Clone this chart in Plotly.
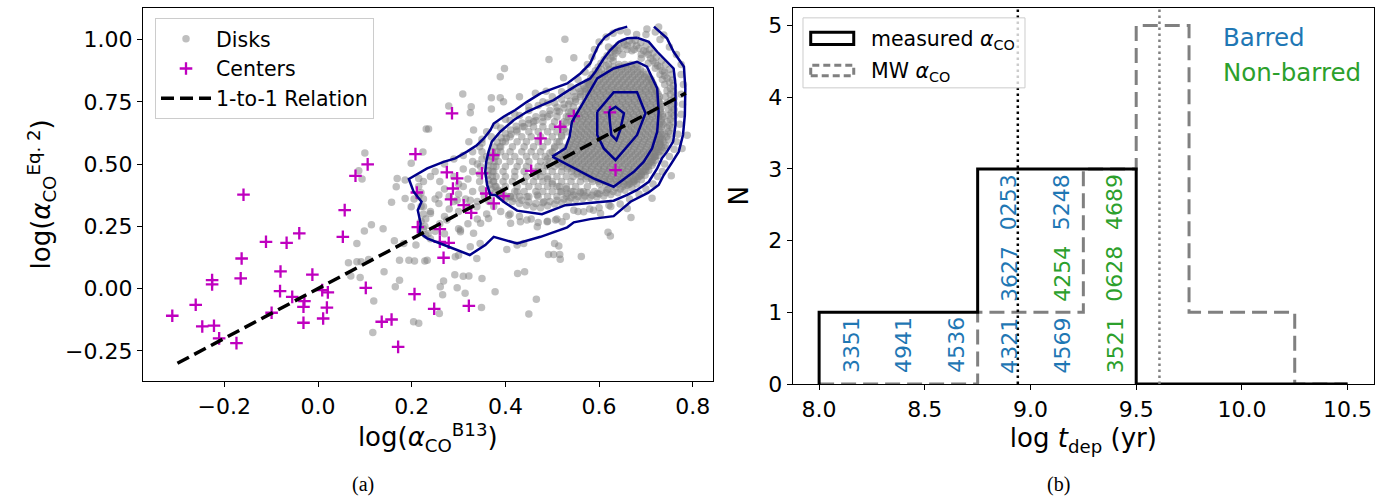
import plotly.graph_objects as go

# ---------------- panel (a): disks (read/estimated from picture) ----------------
disk_sparse = [
    (0.100, 0.545), (0.087, 0.473), (0.094, 0.440), (0.224, 0.549), (0.199, 0.503), (0.169, 0.442),
    (0.167, 0.409), (0.186, 0.436), (0.231, 0.641), (0.215, 0.442), (0.157, 0.347), (0.199, 0.329),
    (0.186, 0.362), (0.114, 0.256), (0.099, 0.231), (0.139, 0.240), (0.083, 0.181), (0.163, 0.192),
    (0.065, 0.104), (0.083, 0.108), (0.092, 0.108), (0.108, 0.117), (0.070, 0.051), (0.090, 0.045),
    (0.141, 0.068), (0.174, 0.114), (0.194, 0.114), (0.206, 0.111), (0.228, 0.111), (0.209, 0.175),
    (0.174, 0.034), (0.165, 0.007), (0.119, -0.050), (0.117, -0.176), (0.204, -0.133), (0.215, -0.139),
    (0.183, 0.181), (0.713, 0.363), (0.668, 0.286), (0.619, 0.226), (0.624, 0.211), (0.562, 0.129),
    (0.505, 0.181), (0.514, 0.171), (0.492, 0.137), (0.503, 0.137), (0.516, 0.137), (0.517, 0.118),
    (0.441, 0.068), (0.426, 0.061), (0.466, -0.043), (0.450, -0.102), (0.378, -0.013), (0.350, 0.041),
    (0.349, -0.076), (0.322, 0.051), (0.310, 0.050), (0.292, 0.056), (0.297, 0.003), (0.314, -0.019),
    (0.268, 0.031), (0.261, 0.007), (0.266, -0.025), (0.259, -0.100), (0.339, 0.121), (0.325, 0.168),
    (0.346, 0.181), (0.304, 0.228), (0.293, 0.128), (0.300, 0.134), (0.403, 0.157), (0.425, 0.175),
    (0.439, 0.181), (0.233, 0.114), (0.527, 1.001), (0.493, 0.920), (0.546, 0.927), (0.398, 0.884),
    (0.389, 0.851), (0.524, 0.847), (0.309, 0.781), (0.370, 0.766), (0.389, 0.766), (0.396, 0.750),
    (0.430, 0.770), (0.327, 0.730), (0.325, 0.706), (0.279, 0.733), (0.370, 0.721), (0.236, 0.641),
    (0.332, 0.637), (0.322, 0.590), (0.464, 0.784), (0.487, 0.793), (0.580, 0.828), (0.702, 1.042),
    (0.727, 1.051), (0.738, 1.018), (0.754, 0.453), (0.788, 0.616), (0.777, 0.563),
]

disk_band = [
    (0.258, 0.342), (0.240, 0.302), (0.275, 0.275), (0.304, 0.235), (0.332, 0.222), (0.347, 0.262),
    (0.364, 0.282), (0.407, 0.295), (0.411, 0.262), (0.432, 0.268), (0.446, 0.275), (0.468, 0.248),
    (0.489, 0.268), (0.507, 0.275), (0.521, 0.268), (0.546, 0.315), (0.567, 0.309), (0.588, 0.315),
    (0.603, 0.302), (0.621, 0.335), (0.660, 0.322), (0.325, 0.355), (0.339, 0.329), (0.297, 0.355),
    (0.258, 0.376), (0.446, 0.369), (0.468, 0.376), (0.482, 0.349), (0.411, 0.369), (0.425, 0.389),
    (0.517, 0.389), (0.532, 0.382), (0.546, 0.376), (0.567, 0.389), (0.596, 0.382), (0.617, 0.396),
    (0.45, 0.73), (0.42, 0.70), (0.40, 0.68), (0.38, 0.655), (0.36, 0.63), (0.35, 0.60), (0.345, 0.57),
    (0.33, 0.55), (0.31, 0.535), (0.29, 0.52), (0.27, 0.50), (0.25, 0.47), (0.24, 0.45), (0.225, 0.43),
    (0.215, 0.41), (0.22, 0.385), (0.225, 0.36), (0.22, 0.33), (0.225, 0.30), (0.22, 0.27), (0.225, 0.24),
    (0.23, 0.215), (0.48, 0.75), (0.50, 0.77), (0.52, 0.79), (0.54, 0.81), (0.555, 0.84), (0.57, 0.87),
    (0.575, 0.90), (0.585, 0.93), (0.59, 0.96), (0.60, 0.99), (0.615, 1.01), (0.63, 1.025), (0.645, 1.035),
    (0.66, 1.03), (0.68, 1.02), (0.70, 1.02), (0.72, 1.03), (0.73, 1.00), (0.75, 0.97), (0.765, 0.94),
    (0.775, 0.90), (0.775, 0.86), (0.78, 0.82), (0.775, 0.78), (0.778, 0.74), (0.775, 0.70), (0.772, 0.66),
    (0.768, 0.62), (0.765, 0.59), (0.76, 0.56), (0.75, 0.53), (0.74, 0.50), (0.735, 0.47), (0.725, 0.45),
    (0.715, 0.42), (0.70, 0.40), (0.685, 0.38), (0.665, 0.36), (0.645, 0.34), (0.625, 0.33), (0.60, 0.325),
    (0.58, 0.32), (0.555, 0.31), (0.53, 0.29), (0.51, 0.28), (0.49, 0.27), (0.47, 0.265), (0.455, 0.28),
    (0.43, 0.29), (0.41, 0.30), (0.39, 0.31), (0.375, 0.33), (0.365, 0.35), (0.355, 0.37), (0.35, 0.40),
    (0.345, 0.43), (0.345, 0.46), (0.347, 0.49), (0.35, 0.52), (0.35, 0.55), (0.34, 0.50), (0.33, 0.47),
    (0.32, 0.44), (0.31, 0.41), (0.30, 0.38), (0.29, 0.35), (0.28, 0.32), (0.27, 0.29), (0.26, 0.26),
    (0.25, 0.23), (0.24, 0.20), (0.27, 0.22), (0.30, 0.24), (0.32, 0.26), (0.34, 0.28), (0.36, 0.30),
    (0.29, 0.45), (0.31, 0.48), (0.33, 0.51), (0.27, 0.40), (0.25, 0.36), (0.24, 0.31), (0.26, 0.43),
    (0.28, 0.37), (0.30, 0.31), (0.32, 0.33), (0.34, 0.35), (0.33, 0.39), (0.315, 0.36), (0.30, 0.42),
    (0.36, 0.53), (0.35, 0.585), (0.37, 0.61), (0.39, 0.645), (0.41, 0.675), (0.43, 0.695), (0.45, 0.715),
    (0.47, 0.735), (0.49, 0.745), (0.205, 0.36), (0.215, 0.37), (0.225, 0.33), (0.23, 0.28), (0.228, 0.25),
    (0.235, 0.22),
]

disk_ring = [
    (0.505, 0.745), (0.520, 0.760), (0.533, 0.775), (0.545, 0.790), (0.556, 0.805), (0.548, 0.770),
    (0.538, 0.752), (0.525, 0.740), (0.560, 0.790), (0.567, 0.815), (0.575, 0.830), (0.582, 0.845),
    (0.572, 0.800), (0.585, 0.860), (0.592, 0.875), (0.598, 0.890), (0.604, 0.905), (0.611, 0.920),
    (0.617, 0.935), (0.625, 0.950), (0.632, 0.965), (0.641, 0.978), (0.652, 0.990), (0.664, 0.995),
    (0.677, 0.996), (0.689, 0.988), (0.700, 0.975), (0.708, 0.960), (0.715, 0.945), (0.722, 0.930),
    (0.733, 0.915), (0.742, 0.900), (0.750, 0.880), (0.755, 0.860), (0.757, 0.838), (0.758, 0.815),
    (0.759, 0.790), (0.760, 0.765), (0.760, 0.742), (0.760, 0.718), (0.760, 0.694), (0.758, 0.670),
    (0.756, 0.646), (0.752, 0.622), (0.748, 0.598), (0.742, 0.575), (0.735, 0.555), (0.728, 0.535),
    (0.720, 0.515), (0.713, 0.495), (0.706, 0.475), (0.698, 0.455), (0.690, 0.437), (0.680, 0.420),
    (0.670, 0.405), (0.655, 0.395), (0.640, 0.385), (0.625, 0.378), (0.610, 0.372), (0.595, 0.368),
    (0.580, 0.366), (0.565, 0.362), (0.550, 0.358), (0.535, 0.352), (0.520, 0.345), (0.505, 0.340),
    (0.490, 0.333), (0.475, 0.325), (0.460, 0.328), (0.445, 0.335), (0.430, 0.342), (0.415, 0.350),
    (0.400, 0.360), (0.388, 0.372), (0.378, 0.385), (0.370, 0.400), (0.366, 0.418), (0.364, 0.436),
    (0.363, 0.455), (0.363, 0.474), (0.364, 0.493), (0.366, 0.512), (0.369, 0.531), (0.372, 0.550),
    (0.377, 0.569), (0.383, 0.588), (0.391, 0.606), (0.400, 0.622), (0.411, 0.637), (0.423, 0.652),
    (0.436, 0.665), (0.450, 0.678), (0.465, 0.690), (0.480, 0.702), (0.495, 0.715), (0.510, 0.728),
    (0.62, 0.97), (0.64, 0.955), (0.66, 0.975), (0.68, 0.975), (0.70, 0.95), (0.63, 0.93), (0.65, 0.94),
    (0.67, 0.955), (0.69, 0.94), (0.71, 0.925), (0.72, 0.905), (0.73, 0.89), (0.74, 0.87), (0.745, 0.845),
    (0.74, 0.82), (0.745, 0.795), (0.742, 0.77), (0.745, 0.745), (0.748, 0.72), (0.748, 0.695),
    (0.745, 0.67), (0.745, 0.645), (0.740, 0.62), (0.735, 0.60), (0.73, 0.58), (0.72, 0.56),
    (0.62, 0.90), (0.63, 0.915), (0.60, 0.87), (0.59, 0.85), (0.58, 0.82), (0.57, 0.79), (0.56, 0.77),
    (0.55, 0.75), (0.545, 0.73), (0.54, 0.71), (0.535, 0.69), (0.53, 0.665), (0.525, 0.64), (0.52, 0.615),
    (0.515, 0.59), (0.505, 0.565), (0.495, 0.545), (0.49, 0.52), (0.485, 0.495), (0.47, 0.47),
    (0.475, 0.45), (0.49, 0.44), (0.50, 0.42), (0.515, 0.41), (0.53, 0.40), (0.545, 0.39), (0.56, 0.385),
    (0.575, 0.385), (0.59, 0.39), (0.605, 0.395), (0.62, 0.40), (0.635, 0.405), (0.65, 0.41),
    (0.665, 0.42), (0.675, 0.435), (0.69, 0.455), (0.70, 0.47), (0.705, 0.49), (0.715, 0.505),
    (0.72, 0.53), (0.73, 0.55), (0.74, 0.565),
    (0.605, 0.88), (0.615, 0.895), (0.625, 0.925), (0.635, 0.945), (0.645, 0.965), (0.655, 0.98),
    (0.67, 0.985), (0.685, 0.965), (0.695, 0.955), (0.705, 0.94), (0.715, 0.915), (0.725, 0.895),
    (0.735, 0.875), (0.74, 0.855), (0.75, 0.83), (0.752, 0.805), (0.752, 0.78), (0.753, 0.755),
    (0.754, 0.73), (0.754, 0.705), (0.752, 0.68), (0.75, 0.655), (0.748, 0.63), (0.744, 0.61),
    (0.738, 0.59), (0.733, 0.57), (0.726, 0.55), (0.718, 0.53), (0.71, 0.51), (0.70, 0.49), (0.692, 0.47),
    (0.684, 0.45), (0.675, 0.43), (0.66, 0.415), (0.645, 0.40), (0.63, 0.39), (0.615, 0.385), (0.60, 0.38),
    (0.585, 0.375), (0.57, 0.372), (0.555, 0.37), (0.54, 0.365), (0.525, 0.36), (0.51, 0.355),
    (0.495, 0.35), (0.48, 0.345), (0.465, 0.342), (0.45, 0.348), (0.435, 0.355), (0.42, 0.362),
    (0.405, 0.37), (0.395, 0.38), (0.385, 0.395), (0.378, 0.41), (0.374, 0.43), (0.372, 0.45),
    (0.372, 0.47), (0.374, 0.49), (0.376, 0.51), (0.378, 0.53), (0.382, 0.55), (0.388, 0.57),
    (0.394, 0.59), (0.402, 0.605), (0.412, 0.62), (0.424, 0.637), (0.437, 0.65), (0.45, 0.663),
    (0.465, 0.675), (0.48, 0.688), (0.495, 0.70), (0.51, 0.713), (0.525, 0.725), (0.535, 0.74),
    (0.55, 0.76), (0.56, 0.78), (0.57, 0.805), (0.578, 0.82), (0.586, 0.84), (0.594, 0.86),
    (0.632, 0.955), (0.66, 0.96), (0.675, 0.96), (0.69, 0.925), (0.705, 0.905), (0.72, 0.885),
    (0.73, 0.86), (0.735, 0.84),
]

# moderately dense left lobe: rows of (y, x-values)
lobe_row_y = [0.37, 0.39, 0.41, 0.43, 0.45, 0.47, 0.49, 0.51, 0.53, 0.55, 0.57, 0.59, 0.61, 0.63,
              0.65, 0.67, 0.69, 0.71]
lobe_row_x = [
    [0.41, 0.43, 0.45, 0.47, 0.49, 0.51, 0.53],
    [0.39, 0.42, 0.44, 0.465, 0.48, 0.50, 0.52, 0.54, 0.56],
    [0.38, 0.40, 0.425, 0.45, 0.47, 0.49, 0.51, 0.53, 0.55, 0.575],
    [0.375, 0.395, 0.415, 0.44, 0.46, 0.48, 0.50, 0.52, 0.54, 0.56],
    [0.38, 0.40, 0.42, 0.445, 0.465, 0.49, 0.51, 0.53, 0.545],
    [0.375, 0.395, 0.42, 0.44, 0.46, 0.48, 0.50, 0.52],
    [0.38, 0.40, 0.425, 0.445, 0.47, 0.49, 0.505],
    [0.385, 0.41, 0.43, 0.45, 0.475, 0.495],
    [0.38, 0.40, 0.42, 0.445, 0.465, 0.485, 0.505],
    [0.39, 0.41, 0.435, 0.455, 0.475, 0.50],
    [0.39, 0.415, 0.44, 0.46, 0.48, 0.505, 0.52],
    [0.40, 0.425, 0.445, 0.47, 0.49, 0.51],
    [0.41, 0.435, 0.455, 0.475, 0.50, 0.52],
    [0.425, 0.45, 0.47, 0.49, 0.51, 0.53],
    [0.44, 0.46, 0.48, 0.50, 0.52],
    [0.46, 0.48, 0.505, 0.525, 0.54],
    [0.49, 0.51, 0.53, 0.55],
    [0.515, 0.535, 0.55],
]

# very dense core: rows of (y, x-values)
core_row_y = [0.42, 0.43, 0.44, 0.45, 0.46, 0.47, 0.48, 0.49, 0.50, 0.51, 0.52, 0.53, 0.54, 0.55,
              0.56, 0.57, 0.58, 0.59, 0.60, 0.61, 0.62, 0.63, 0.64, 0.65, 0.66, 0.67, 0.68, 0.69,
              0.70, 0.71, 0.72, 0.73, 0.74, 0.75, 0.76, 0.77, 0.78, 0.79, 0.80, 0.81, 0.82, 0.83,
              0.84, 0.85, 0.86, 0.87, 0.88, 0.89, 0.90]
core_row_x = [
    [0.601, 0.614, 0.627, 0.640, 0.653, 0.664],
    [0.586, 0.599, 0.612, 0.625, 0.638, 0.651, 0.664, 0.673],
    [0.572, 0.584, 0.597, 0.611, 0.623, 0.636, 0.649, 0.661, 0.673, 0.681],
    [0.561, 0.574, 0.587, 0.600, 0.613, 0.626, 0.639, 0.652, 0.665, 0.678, 0.686],
    [0.553, 0.566, 0.578, 0.591, 0.604, 0.617, 0.630, 0.643, 0.655, 0.668, 0.680, 0.690],
    [0.541, 0.554, 0.567, 0.580, 0.593, 0.606, 0.619, 0.632, 0.645, 0.658, 0.671, 0.684, 0.695],
    [0.532, 0.545, 0.559, 0.571, 0.584, 0.598, 0.610, 0.623, 0.636, 0.649, 0.662, 0.674, 0.687, 0.699],
    [0.520, 0.533, 0.546, 0.559, 0.572, 0.585, 0.598, 0.611, 0.624, 0.637, 0.650, 0.663, 0.676, 0.689, 0.702],
    [0.512, 0.525, 0.538, 0.551, 0.564, 0.577, 0.590, 0.603, 0.616, 0.629, 0.642, 0.655, 0.668, 0.681, 0.694, 0.706],
    [0.517, 0.530, 0.543, 0.556, 0.569, 0.582, 0.595, 0.608, 0.621, 0.634, 0.647, 0.660, 0.673, 0.686, 0.699, 0.711],
    [0.511, 0.524, 0.537, 0.550, 0.563, 0.576, 0.589, 0.602, 0.615, 0.628, 0.641, 0.654, 0.667, 0.680, 0.693, 0.705, 0.714],
    [0.516, 0.529, 0.542, 0.555, 0.568, 0.581, 0.594, 0.607, 0.620, 0.633, 0.646, 0.659, 0.672, 0.685, 0.698, 0.711, 0.719],
    [0.521, 0.534, 0.547, 0.560, 0.573, 0.586, 0.599, 0.612, 0.625, 0.638, 0.651, 0.664, 0.677, 0.690, 0.703, 0.716],
    [0.526, 0.539, 0.552, 0.565, 0.578, 0.591, 0.604, 0.617, 0.630, 0.643, 0.656, 0.669, 0.682, 0.695, 0.708, 0.720],
    [0.531, 0.544, 0.557, 0.570, 0.583, 0.596, 0.609, 0.622, 0.635, 0.648, 0.661, 0.674, 0.687, 0.700, 0.713, 0.724],
    [0.533, 0.546, 0.559, 0.572, 0.585, 0.598, 0.611, 0.624, 0.637, 0.650, 0.663, 0.676, 0.689, 0.702, 0.715, 0.727],
    [0.536, 0.549, 0.562, 0.575, 0.588, 0.601, 0.614, 0.627, 0.640, 0.653, 0.666, 0.679, 0.692, 0.705, 0.718, 0.729],
    [0.538, 0.551, 0.564, 0.577, 0.590, 0.603, 0.616, 0.629, 0.642, 0.655, 0.668, 0.681, 0.694, 0.707, 0.720, 0.730],
    [0.541, 0.554, 0.567, 0.580, 0.593, 0.606, 0.619, 0.632, 0.645, 0.658, 0.671, 0.684, 0.697, 0.710, 0.722, 0.730],
    [0.547, 0.560, 0.573, 0.586, 0.599, 0.612, 0.625, 0.638, 0.651, 0.664, 0.677, 0.690, 0.703, 0.716, 0.729],
    [0.543, 0.556, 0.569, 0.582, 0.595, 0.608, 0.621, 0.634, 0.647, 0.660, 0.673, 0.686, 0.699, 0.712, 0.725, 0.734],
    [0.549, 0.562, 0.575, 0.588, 0.601, 0.614, 0.627, 0.640, 0.653, 0.666, 0.679, 0.692, 0.705, 0.718, 0.731],
    [0.546, 0.559, 0.572, 0.585, 0.598, 0.611, 0.624, 0.637, 0.650, 0.663, 0.676, 0.689, 0.702, 0.715, 0.728],
    [0.552, 0.565, 0.578, 0.591, 0.604, 0.617, 0.630, 0.643, 0.656, 0.669, 0.682, 0.695, 0.708, 0.721, 0.733],
    [0.547, 0.560, 0.573, 0.586, 0.599, 0.612, 0.625, 0.638, 0.651, 0.664, 0.677, 0.690, 0.703, 0.716, 0.729, 0.736],
    [0.550, 0.563, 0.576, 0.589, 0.602, 0.615, 0.628, 0.641, 0.654, 0.667, 0.680, 0.693, 0.706, 0.719, 0.732],
    [0.552, 0.565, 0.578, 0.591, 0.604, 0.617, 0.630, 0.643, 0.656, 0.669, 0.682, 0.695, 0.708, 0.721, 0.733],
    [0.558, 0.571, 0.584, 0.597, 0.610, 0.623, 0.636, 0.649, 0.662, 0.675, 0.688, 0.701, 0.714, 0.727, 0.736],
    [0.556, 0.569, 0.582, 0.595, 0.608, 0.621, 0.634, 0.647, 0.660, 0.673, 0.686, 0.699, 0.712, 0.725, 0.735],
    [0.563, 0.576, 0.589, 0.602, 0.615, 0.628, 0.641, 0.654, 0.667, 0.680, 0.693, 0.706, 0.719, 0.731],
    [0.561, 0.574, 0.587, 0.600, 0.613, 0.626, 0.639, 0.652, 0.665, 0.678, 0.691, 0.704, 0.717, 0.730],
    [0.567, 0.580, 0.593, 0.606, 0.619, 0.632, 0.645, 0.658, 0.671, 0.684, 0.697, 0.710, 0.723, 0.733],
    [0.566, 0.579, 0.592, 0.605, 0.618, 0.631, 0.644, 0.657, 0.670, 0.683, 0.696, 0.709, 0.722, 0.731],
    [0.572, 0.585, 0.598, 0.611, 0.624, 0.637, 0.650, 0.663, 0.676, 0.689, 0.702, 0.715, 0.728],
    [0.571, 0.584, 0.597, 0.610, 0.623, 0.636, 0.649, 0.662, 0.675, 0.688, 0.701, 0.714, 0.727],
    [0.577, 0.590, 0.603, 0.616, 0.629, 0.642, 0.655, 0.668, 0.681, 0.694, 0.707, 0.720, 0.729],
    [0.576, 0.589, 0.602, 0.615, 0.628, 0.641, 0.654, 0.667, 0.680, 0.693, 0.706, 0.719, 0.726],
    [0.583, 0.596, 0.609, 0.622, 0.635, 0.648, 0.661, 0.674, 0.687, 0.700, 0.713, 0.723],
    [0.582, 0.595, 0.608, 0.621, 0.634, 0.647, 0.660, 0.673, 0.686, 0.699, 0.712, 0.721],
    [0.588, 0.601, 0.614, 0.627, 0.640, 0.653, 0.666, 0.679, 0.692, 0.705, 0.717],
    [0.591, 0.604, 0.617, 0.630, 0.643, 0.656, 0.669, 0.682, 0.695, 0.708, 0.716],
    [0.597, 0.610, 0.623, 0.636, 0.649, 0.662, 0.675, 0.688, 0.701, 0.713],
    [0.601, 0.614, 0.627, 0.640, 0.653, 0.666, 0.679, 0.692, 0.705, 0.711],
    [0.606, 0.619, 0.632, 0.645, 0.658, 0.671, 0.684, 0.697, 0.706],
    [0.611, 0.624, 0.637, 0.650, 0.663, 0.676, 0.689, 0.700],
    [0.617, 0.630, 0.643, 0.656, 0.669, 0.682, 0.694],
    [0.622, 0.635, 0.648, 0.661, 0.674, 0.688],
    [0.630, 0.643, 0.656, 0.669, 0.682],
    [0.642, 0.655, 0.668, 0.679],
]

# ---------------- panel (a): centers ----------------
centers = [
    (-0.159, 0.377), (0.057, 0.315), (-0.111, 0.188), (-0.067, 0.184), (-0.040, 0.222), (0.053, 0.208),
    (-0.163, 0.121), (-0.080, 0.069), (-0.012, 0.056), (-0.226, 0.034), (-0.226, 0.017), (-0.165, 0.041),
    (-0.261, -0.065), (-0.311, -0.109), (-0.081, -0.010), (-0.055, -0.033), (-0.029, -0.050),
    (-0.031, -0.073), (0.009, -0.006), (0.021, -0.015), (0.019, -0.076), (-0.099, -0.097),
    (-0.247, -0.152), (-0.222, -0.149), (-0.211, -0.200), (-0.174, -0.219), (-0.031, -0.137),
    (0.011, -0.120), (0.102, 0.003), (0.136, -0.133), (0.157, -0.124), (0.171, -0.234), (0.206, -0.022),
    (0.080, 0.453), (0.106, 0.499), (0.208, 0.540), (0.284, 0.358), (0.311, 0.335), (0.327, 0.304),
    (0.359, 0.382), (0.375, 0.342), (0.396, 0.371), (0.260, 0.239), (0.260, 0.188), (0.279, 0.184),
    (0.268, 0.124), (0.248, -0.081), (0.322, -0.069), (0.286, 0.704), (0.475, 0.603), (0.517, 0.650),
    (0.546, 0.693), (0.623, 0.708), (0.635, 0.476), (0.455, 0.473), (0.275, 0.467), (0.297, 0.443),
    (0.350, 0.463), (0.374, 0.536), (0.288, 0.402), (0.213, 0.247), (0.211, 0.386),
]

one_to_one = [-0.30, 0.785]

# ---------------- panel (a): density contours ----------------
c1_x = [0.660, 0.635, 0.613, 0.599, 0.589, 0.581, 0.560, 0.532, 0.503, 0.475, 0.446, 0.421, 0.396, 0.375,
        0.368, 0.354, 0.339, 0.318, 0.293, 0.268, 0.233, 0.194, 0.204, 0.221, 0.213, 0.219, 0.217, 0.233,
        0.261, 0.324, 0.357, 0.375, 0.425, 0.475, 0.532, 0.546, 0.581, 0.631, 0.667, 0.705, 0.727, 0.738,
        0.752, 0.770, 0.779, 0.783, 0.784, 0.781, 0.759, 0.745, 0.717]
c1_y = [1.052, 1.038, 1.011, 0.978, 0.938, 0.904, 0.864, 0.824, 0.804, 0.784, 0.750, 0.717, 0.690, 0.663,
        0.637, 0.603, 0.576, 0.550, 0.523, 0.509, 0.483, 0.440, 0.389, 0.349, 0.315, 0.262, 0.224, 0.202,
        0.181, 0.135, 0.175, 0.208, 0.181, 0.208, 0.246, 0.266, 0.279, 0.291, 0.349, 0.385, 0.416, 0.456,
        0.496, 0.550, 0.617, 0.697, 0.804, 0.891, 0.951, 1.005, 1.052]
c2_x = [0.682, 0.660, 0.642, 0.624, 0.610, 0.599, 0.592, 0.581, 0.553, 0.528, 0.503, 0.478, 0.446, 0.418,
        0.389, 0.371, 0.364, 0.359, 0.357, 0.361, 0.368, 0.379, 0.396, 0.425, 0.478, 0.528, 0.581, 0.631,
        0.660, 0.681, 0.706, 0.724, 0.734, 0.745, 0.758, 0.763, 0.763, 0.763, 0.759, 0.741, 0.724, 0.706,
        0.682]
c2_y = [1.007, 1.005, 0.991, 0.958, 0.924, 0.891, 0.871, 0.844, 0.817, 0.788, 0.757, 0.737, 0.710, 0.677,
        0.630, 0.590, 0.550, 0.509, 0.469, 0.416, 0.376, 0.376, 0.349, 0.313, 0.299, 0.335, 0.345, 0.353,
        0.376, 0.396, 0.429, 0.483, 0.523, 0.550, 0.590, 0.657, 0.737, 0.817, 0.884, 0.918, 0.951, 0.991,
        1.007]
c3_x = [0.500, 0.528, 0.537, 0.542, 0.567, 0.596, 0.631, 0.681, 0.702, 0.724, 0.727, 0.724, 0.713, 0.695,
        0.674, 0.631, 0.588, 0.546, 0.500]
c3_y = [0.530, 0.563, 0.610, 0.670, 0.750, 0.844, 0.884, 0.911, 0.891, 0.804, 0.710, 0.630, 0.563, 0.509,
        0.469, 0.409, 0.443, 0.483, 0.530]
c4_x = [0.596, 0.631, 0.681, 0.699, 0.681, 0.656, 0.635, 0.610, 0.596, 0.596]
c4_y = [0.710, 0.788, 0.788, 0.704, 0.617, 0.563, 0.516, 0.563, 0.617, 0.710]
c5_x = [0.621, 0.635, 0.653, 0.645, 0.637, 0.626, 0.623, 0.621]
c5_y = [0.713, 0.730, 0.704, 0.637, 0.596, 0.617, 0.670, 0.713]

# ---------------- panel (b): histograms ----------------
bin_edges = [8.0, 8.25, 8.5, 8.75, 9.0, 9.25, 9.5, 9.75, 10.0, 10.25, 10.5]
measured_counts = [1, 1, 1, 3, 3, 3, 0, 0, 0, 0]
mw_counts = [0, 0, 0, 1, 1, 3, 5, 1, 1, 0]
median_measured = 8.94
median_mw = 9.61

gal_names = ["3351", "4941", "4536", "4321", "3627", "0253", "4569", "4254", "5248", "3521", "0628", "4689"]
gal_x = [8.15, 8.40, 8.65, 8.90, 8.90, 8.90, 9.15, 9.15, 9.15, 9.40, 9.40, 9.40]
gal_row = [0, 0, 0, 0, 1, 2, 0, 1, 2, 0, 1, 2]
gal_barred = [True, True, True, True, True, True, True, False, True, False, False, False]

BLUE = "#1f77b4"
GREEN = "#2ca02c"
FONT = "DejaVu Sans"


def flatten_rows(row_y, row_x):
    xs, ys = [], []
    for y, xr in zip(row_y, row_x):
        for x in xr:
            xs.append(x)
            ys.append(y)
    return xs, ys


def step_outline(edges, counts):
    xs, ys = [edges[0]], [0]
    for i, c in enumerate(counts):
        xs += [edges[i], edges[i + 1]]
        ys += [c, c]
    xs.append(edges[-1])
    ys.append(0)
    return xs, ys


dx, dy = [], []
for group in (disk_sparse, disk_band, disk_ring):
    dx += [p[0] for p in group]
    dy += [p[1] for p in group]
for rx, ry in (flatten_rows(lobe_row_y, lobe_row_x), flatten_rows(core_row_y, core_row_x)):
    dx += rx
    dy += ry

fig = go.Figure()

fig.add_trace(go.Scatter(
    x=dx, y=dy, mode="markers", name="Disks",
    marker=dict(size=7.5, color="rgba(128,128,128,0.5)", line=dict(width=0)),
    xaxis="x", yaxis="y", legend="legend"))

fig.add_trace(go.Scatter(
    x=[p[0] for p in centers], y=[p[1] for p in centers], mode="markers", name="Centers",
    marker=dict(symbol="cross-thin", size=9, color="#bf00bf", line=dict(width=2.3, color="#bf00bf")),
    xaxis="x", yaxis="y", legend="legend"))

for cx, cy in ((c1_x, c1_y), (c2_x, c2_y), (c3_x, c3_y), (c4_x, c4_y), (c5_x, c5_y)):
    fig.add_trace(go.Scatter(x=cx, y=cy, mode="lines", showlegend=False,
                             line=dict(color="#00008b", width=2.5), xaxis="x", yaxis="y"))

fig.add_trace(go.Scatter(
    x=one_to_one, y=one_to_one, mode="lines", name="1-to-1 Relation",
    line=dict(color="black", width=3.5, dash="13px,6px"), xaxis="x", yaxis="y", legend="legend"))

# panel (b)
mx, my = step_outline(bin_edges, measured_counts)
wx, wy = step_outline(bin_edges, mw_counts)
fig.add_trace(go.Scatter(x=wx, y=wy, mode="lines", showlegend=False,
                         line=dict(color="gray", width=3, dash="15px,7px"), xaxis="x2", yaxis="y2"))
fig.add_trace(go.Scatter(x=mx, y=my, mode="lines", showlegend=False,
                         line=dict(color="black", width=3), xaxis="x2", yaxis="y2"))
fig.add_trace(go.Scatter(x=[median_measured, median_measured], y=[0, 5.25], mode="lines", showlegend=False,
                         line=dict(color="black", width=2.5, dash="2.5px,3.5px"), xaxis="x2", yaxis="y2"))
fig.add_trace(go.Scatter(x=[median_mw, median_mw], y=[0, 5.25], mode="lines", showlegend=False,
                         line=dict(color="gray", width=2.5, dash="2.5px,3.5px"), xaxis="x2", yaxis="y2"))

annotations = []
for name, gx, gr, barred in zip(gal_names, gal_x, gal_row, gal_barred):
    annotations.append(dict(x=gx, y=gr + 0.54, xref="x2", yref="y2", text=name, showarrow=False,
                            textangle=-90, xanchor="center", yanchor="middle",
                            font=dict(family=FONT, size=22, color=BLUE if barred else GREEN)))
annotations.append(dict(x=9.90, y=4.83, xref="x2", yref="y2", text="Barred", showarrow=False,
                        xanchor="left", yanchor="middle", font=dict(family=FONT, size=24.5, color=BLUE)))
annotations.append(dict(x=9.90, y=4.34, xref="x2", yref="y2", text="Non-barred", showarrow=False,
                        xanchor="left", yanchor="middle", font=dict(family=FONT, size=24.5, color=GREEN)))
# legend text for panel (b)
annotations.append(dict(x=0.131, y=0.914, xref="x2 domain", yref="y2 domain",
                        text="measured <i>α</i><sub>CO</sub>", showarrow=False, xanchor="left",
                        yanchor="middle", font=dict(family=FONT, size=20.5, color="black")))
annotations.append(dict(x=0.131, y=0.830, xref="x2 domain", yref="y2 domain",
                        text="MW <i>α</i><sub>CO</sub>", showarrow=False, xanchor="left",
                        yanchor="middle", font=dict(family=FONT, size=20.5, color="black")))
# captions
annotations.append(dict(x=363 / 1390, y=1 - 484 / 496, xref="paper", yref="paper", text="(a)",
                        showarrow=False, xanchor="center", yanchor="middle",
                        font=dict(family="Liberation Serif", size=20, color="black")))
annotations.append(dict(x=1058 / 1390, y=1 - 484 / 496, xref="paper", yref="paper", text="(b)",
                        showarrow=False, xanchor="center", yanchor="middle",
                        font=dict(family="Liberation Serif", size=20, color="black")))

shapes = [
    dict(type="rect", xref="x2 domain", yref="y2 domain", x0=0.0177, x1=0.3996, y0=0.787, y1=0.973,
         line=dict(color="#cccccc", width=1), fillcolor="rgba(255,255,255,0.8)", layer="above"),
    dict(type="rect", xref="x2 domain", yref="y2 domain", x0=0.031, x1=0.105, y0=0.902, y1=0.935,
         line=dict(color="black", width=3), fillcolor="rgba(0,0,0,0)", layer="above"),
    dict(type="rect", xref="x2 domain", yref="y2 domain", x0=0.031, x1=0.105, y0=0.819, y1=0.847,
         line=dict(color="gray", width=3, dash="7px,4px"), fillcolor="rgba(0,0,0,0)", layer="above"),
]

axis_common = dict(showgrid=False, zeroline=False, showline=True, linecolor="black", linewidth=1.3,
                   mirror=True, ticks="outside", ticklen=5, tickwidth=1.2, tickcolor="black",
                   automargin=False, tickfont=dict(family=FONT, size=22, color="black"))

fig.update_layout(
    width=1390, height=496, margin=dict(l=0, r=0, t=0, b=0, autoexpand=False),
    paper_bgcolor="white", plot_bgcolor="white",
    font=dict(family=FONT, color="black"),
    xaxis=dict(domain=[143 / 1390, 712.5 / 1390], range=[-0.3735, 0.842], tickvals=[-0.2, 0, 0.2, 0.4, 0.6, 0.8],
               tickformat=".1f", anchor="y",
               title=dict(text="log(<i>α</i><sub>CO</sub><sup>B13</sup>)", font=dict(family=FONT, size=26),
                          standoff=10),
               **axis_common),
    yaxis=dict(domain=[1 - 381 / 496, 1 - 7.7 / 496], range=[-0.371, 1.128],
               tickvals=[-0.25, 0, 0.25, 0.5, 0.75, 1.0], tickformat=".2f", anchor="x",
               title=dict(text="log(<i>α</i><sub>CO</sub><sup>Eq. 2</sup>)", font=dict(family=FONT, size=26),
                          standoff=6),
               **axis_common),
    xaxis2=dict(domain=[792.7 / 1390, 1374 / 1390], range=[7.875, 10.625],
                tickvals=[8.0, 8.5, 9.0, 9.5, 10.0, 10.5], tickformat=".1f", anchor="y2",
                title=dict(text="log <i>t</i><sub>dep</sub> (yr)", font=dict(family=FONT, size=26), standoff=8),
                **axis_common),
    yaxis2=dict(domain=[1 - 384 / 496, 1 - 7.7 / 496], range=[0, 5.25], tickvals=[0, 1, 2, 3, 4, 5],
                anchor="x2",
                title=dict(text="N", font=dict(family=FONT, size=26), standoff=12),
                **axis_common),
    legend=dict(x=155 / 1390, y=1 - 18 / 496, xanchor="left", yanchor="top",
                bgcolor="rgba(255,255,255,0.8)", bordercolor="#cccccc", borderwidth=1,
                font=dict(family=FONT, size=20.5, color="black"), itemwidth=50, tracegroupgap=0),
    showlegend=True,
    annotations=annotations,
    shapes=shapes,
)

fig.write_html("out.html", config={"displayModeBar": False},
               post_script="document.body.style.margin='0';document.body.style.overflow='hidden';")
